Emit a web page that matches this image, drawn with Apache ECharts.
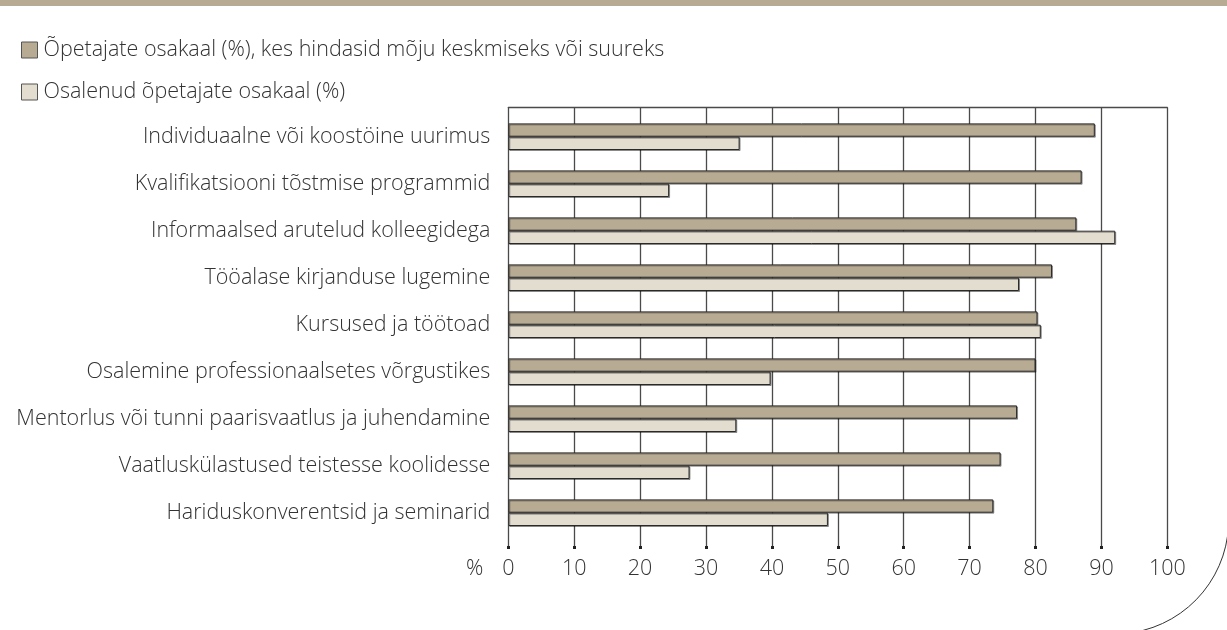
<!DOCTYPE html>
<html><head><meta charset="utf-8">
<script src="https://cdn.jsdelivr.net/npm/echarts@6/dist/echarts.min.js"></script>
<style>html,body{margin:0;padding:0;background:#fff}#c{width:1227px;height:630px}</style>
</head><body><div id="c"></div>
<script>
const categories = [
  'Individuaalne või koostöine uurimus',
  'Kvalifikatsiooni tõstmise programmid',
  'Informaalsed arutelud kolleegidega',
  'Tööalase kirjanduse lugemine',
  'Kursused ja töötoad',
  'Osalemine professionaalsetes võrgustikes',
  'Mentorlus või tunni paarisvaatlus ja juhendamine',
  'Vaatluskülastused teistesse koolidesse',
  'Hariduskonverentsid ja seminarid'
];
const seriesNames = [
  'Õpetajate osakaal (%), kes hindasid mõju keskmiseks või suureks',
  'Osalenud õpetajate osakaal (%)'
];
const impactValues = [89.0, 87.0, 86.2, 82.5, 80.3, 80.0, 77.2, 74.7, 73.6];
const participationValues = [35.1, 24.4, 92.1, 77.5, 80.8, 39.8, 34.6, 27.5, 48.5];
const xTicks = { min: 0, max: 100, interval: 10 };
const unitLabel = '%';

const FONT = '"Open Sans", "Noto Sans", sans-serif';
const TXT = '#333333';
const FW = 300;
const FS = 21.5;
const chart = echarts.init(document.getElementById('c'), null, { renderer: 'canvas' });
const barStyle = (c) => ({ color: c, borderColor: '#2a2a2a', borderWidth: 1, shadowColor: 'rgba(0,0,0,0.35)', shadowOffsetX: 1, shadowOffsetY: 1, shadowBlur: 0 });

chart.setOption({
  animation: false,
  backgroundColor: '#fff',
  legend: {
    orient: 'vertical', left: 21, top: 39, padding: 0, itemWidth: 16, itemHeight: 16, itemGap: 20,
    icon: 'rect',
    itemStyle: { borderColor: '#555', borderWidth: 1 },
    textStyle: { fontFamily: FONT, fontSize: FS, fontWeight: FW, color: TXT, padding: [0, 0, 0, 1] },
    data: seriesNames
  },
  grid: [
    { left: 508.3, width: 659, top: 107.5, height: 438.5 },
    { left: 508.3, width: 659, top: 113.2, height: 423 }
  ],
  xAxis: [
    { type: 'value', gridIndex: 0, position: 'bottom', min: xTicks.min, max: xTicks.max, interval: xTicks.interval,
      axisLine: { show: false },
      axisTick: { show: true, length: 3, lineStyle: { color: '#222', width: 3 } },
      splitLine: { show: true, lineStyle: { color: '#4a4a4a', width: 1.3 } },
      axisLabel: { fontFamily: FONT, fontSize: FS, fontWeight: FW, color: TXT, margin: 12 },
      name: unitLabel, nameLocation: 'start', nameGap: 25,
      nameTextStyle: { fontFamily: FONT, fontSize: FS, fontWeight: FW, color: TXT, verticalAlign: 'top', padding: [12, 0, 0, 0] }
    },
    { type: 'value', gridIndex: 0, position: 'top', min: xTicks.min, max: xTicks.max,
      axisLine: { show: true, lineStyle: { color: '#4a4a4a', width: 1.3 } },
      axisTick: { show: false }, axisLabel: { show: false }, splitLine: { show: false } },
    { type: 'value', gridIndex: 1, min: xTicks.min, max: xTicks.max, show: false }
  ],
  yAxis: [
    { type: 'value', gridIndex: 0, show: false },
    { type: 'category', gridIndex: 1, inverse: true, data: categories,
      axisLine: { show: false }, axisTick: { show: false },
      axisLabel: { fontFamily: FONT, fontSize: FS, fontWeight: FW, color: TXT, margin: 18 } }
  ],
  series: [
    { name: seriesNames[0], type: 'bar', xAxisIndex: 2, yAxisIndex: 1, data: impactValues,
      barWidth: 13.3, barGap: '0%', itemStyle: barStyle('#b8ab94') },
    { name: seriesNames[1], type: 'bar', xAxisIndex: 2, yAxisIndex: 1, data: participationValues,
      barWidth: 13.3, barGap: '0%', itemStyle: barStyle('#e3ddd0') }
  ],
  graphic: [
    { type: 'rect', left: 0, top: 0, shape: { x: 0, y: 0, width: 1227, height: 6 }, style: { fill: '#b8ab94' } },
    { type: 'arc', shape: { cx: 1114.7, cy: 520, r: 114, startAngle: 0.05, endAngle: 1.5, clockwise: true },
      style: { stroke: '#333', lineWidth: 1, fill: null } }
  ]
});
</script></body></html>
